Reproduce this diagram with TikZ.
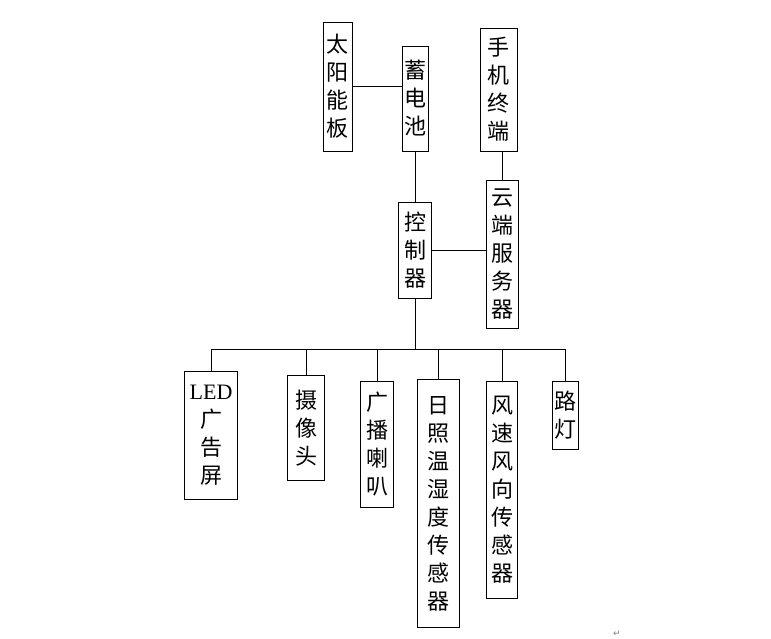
\documentclass[tikz,border=0pt]{standalone}
\usepackage{fontspec}
\setmainfont{Liberation Serif}
\newfontfamily\cjk{Noto Sans CJK SC}
\newfontfamily\symfont{DejaVu Sans}
\begin{document}
\begin{tikzpicture}[x=1pt,y=-1pt,
	box/.style={draw, line width=0.8pt, inner sep=0pt, align=center,
		font=\cjk\fontsize{22}{28}\selectfont},
	wire/.style={line width=0.8pt}]
\useasboundingbox (0,0) rectangle (771,639);
% power and control
\node[box, minimum width=29pt, minimum height=129pt] (solar) at (337.5,86.5) {太\\阳\\能\\板};
\node[box, minimum width=26pt, minimum height=105pt] (battery) at (415,98.5) {蓄\\电\\池};
\node[box, minimum width=37pt, minimum height=123pt] (phone) at (498.5,89.5) {手\\机\\终\\端};
\node[box, minimum width=32pt, minimum height=148pt] (cloud) at (502,254) {云\\端\\服\\务\\器};
\node[box, minimum width=33pt, minimum height=96pt] (ctrl) at (415,250.5) {控\\制\\器};
% devices
\node[box, minimum width=53pt, minimum height=128pt, anchor=north] (led) at (211,371) {{\rmfamily LED}\\广\\告\\屏};
\node[box, minimum width=37pt, minimum height=105pt, anchor=north] (cam) at (306,375) {摄\\像\\头};
\node[box, minimum width=33pt, minimum height=126pt, anchor=north] (horn) at (377,381) {广\\播\\喇\\叭};
\node[box, minimum width=42pt, minimum height=248pt, anchor=north] (sun) at (438,379) {日\\照\\温\\湿\\度\\传\\感\\器};
\node[box, minimum width=31pt, minimum height=217pt, anchor=north] (wind) at (502,381) {风\\速\\风\\向\\传\\感\\器};
\node[box, minimum width=26pt, minimum height=68pt, anchor=north] (lamp) at (565,381) {路\\灯};
\coordinate (bus) at (415,349);

\draw[wire] (solar.east) -- (solar.east -| battery.west);
\draw[wire] (battery.south) -- (ctrl.north);
\draw[wire] (cloud.north) -- (cloud.north |- phone.south);
\draw[wire] (ctrl.east) -- (ctrl.east -| cloud.west);
\draw[wire] (ctrl.south) -- (bus);
\foreach \d in {led,cam,horn,sun,wind,lamp}
	\draw[wire] (\d.north) |- (bus);

\node[text=gray, font=\symfont\fontsize{9}{9}\selectfont, inner sep=0pt] (mark) at (617,634) {↵};
\end{tikzpicture}
\end{document}
